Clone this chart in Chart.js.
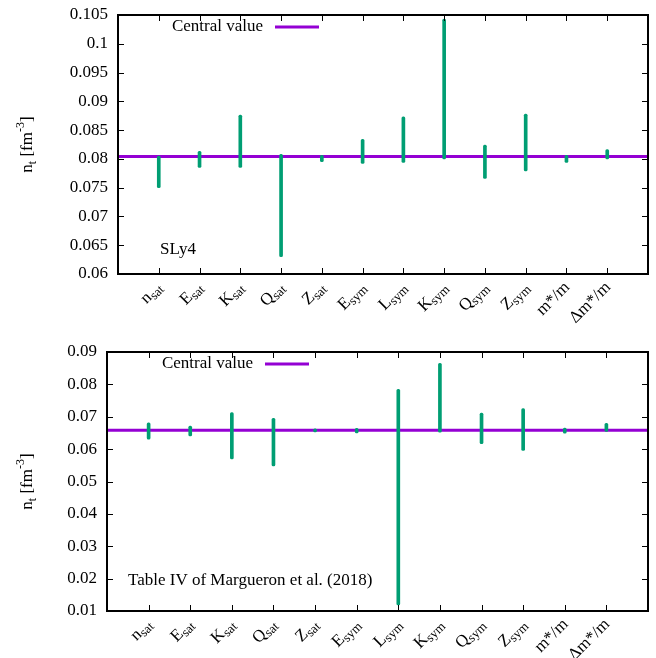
<!DOCTYPE html>
<html>
<head>
<meta charset="utf-8">
<script src="https://cdn.jsdelivr.net/npm/chart.js@4"></script>
<style>
  body { margin: 0; background: #fff; }
  .box { position: absolute; left: 0; width: 656px; }
</style>
</head>
<body>
<div class="box" style="top:0;height:330px"><canvas id="topChart"></canvas></div>
<div class="box" style="top:330px;height:328px"><canvas id="bottomChart"></canvas></div>
<script>
// parameter names: [main, subscript]
const params = [['n','sat'],['E','sat'],['K','sat'],['Q','sat'],['Z','sat'],
  ['E','sym'],['L','sym'],['K','sym'],['Q','sym'],['Z','sym'],['m*/m',''],['\u0394m*/m','']];

// SLy4: n_t range when each parameter is varied
const sly4Central = 0.0804;
const sly4Low  = [0.0750, 0.0785, 0.0785, 0.0630, 0.0795, 0.0792, 0.0794, 0.0800, 0.0766, 0.0779, 0.0794, 0.0800];
const sly4High = [0.0805, 0.0813, 0.0876, 0.0808, 0.0806, 0.0834, 0.0873, 0.1043, 0.0824, 0.0878, 0.0806, 0.0816];

// Table IV of Margueron et al. (2018)
const margCentral = 0.0658;
const margLow  = [0.0631, 0.0641, 0.0570, 0.0548, 0.0653, 0.0650, 0.0119, 0.0652, 0.0617, 0.0596, 0.0649, 0.0655];
const margHigh = [0.0681, 0.0671, 0.0713, 0.0695, 0.0663, 0.0664, 0.0785, 0.0865, 0.0711, 0.0725, 0.0665, 0.0680];

const FONT = '"Liberation Serif", "DejaVu Serif", serif';
const GREEN = '#009e73';
const PURPLE = '#9400d3';

// gnuplot-like frame, inner ticks, rotated labels with subscripts, legend and note
const decor = {
  id: 'decor',
  afterDraw(chart, args, o) {
    const ctx = chart.ctx, a = chart.chartArea;
    const xs = chart.scales.x, ys = chart.scales.y;
    ctx.save();
    ctx.strokeStyle = '#000';
    ctx.lineWidth = 1;
    ctx.beginPath();
    ys.ticks.forEach(t => {
      const y = Math.round(ys.getPixelForValue(t.value)) + 0.5;
      ctx.moveTo(a.left, y); ctx.lineTo(a.left + 6, y);
      ctx.moveTo(a.right, y); ctx.lineTo(a.right - 6, y);
    });
    params.forEach((p, i) => {
      const x = Math.round(xs.getPixelForValue(i + 1)) + 0.5;
      ctx.moveTo(x, a.bottom); ctx.lineTo(x, a.bottom - 6);
      ctx.moveTo(x, a.top); ctx.lineTo(x, a.top + 6);
    });
    ctx.stroke();
    ctx.lineWidth = 2;
    ctx.strokeRect(a.left, a.top, a.right - a.left, a.bottom - a.top);

    // x labels
    ctx.fillStyle = '#000';
    ctx.textBaseline = 'alphabetic';
    params.forEach((p, i) => {
      const x = xs.getPixelForValue(i + 1);
      ctx.save();
      ctx.translate(x + 4, a.bottom + 14);
      ctx.rotate(-Math.PI / 4);
      ctx.font = '17px ' + FONT;
      const w1 = ctx.measureText(p[0]).width;
      ctx.font = '13px ' + FONT;
      const w2 = p[1] ? ctx.measureText(p[1]).width : 0;
      ctx.textAlign = 'left';
      ctx.font = '17px ' + FONT;
      ctx.fillText(p[0], -w1 - w2, 0);
      if (p[1]) {
        ctx.font = '13px ' + FONT;
        ctx.fillText(p[1], -w2, 3);
      }
      ctx.restore();
    });

    // y title: n_t [fm^-3]
    ctx.save();
    ctx.translate(o.titleX, (a.top + a.bottom) / 2);
    ctx.rotate(-Math.PI / 2);
    const parts = [['n', 17, 0], ['t', 12, 4], [' [fm', 17, 0], ['-3', 12, -8], [']', 17, 0]];
    let total = 0;
    parts.forEach(q => { ctx.font = q[1] + 'px ' + FONT; total += ctx.measureText(q[0]).width; });
    let cx = -total / 2;
    ctx.textAlign = 'left';
    parts.forEach(q => {
      ctx.font = q[1] + 'px ' + FONT;
      ctx.fillText(q[0], cx, q[2]);
      cx += ctx.measureText(q[0]).width;
    });
    ctx.restore();

    // legend
    ctx.font = '17px ' + FONT;
    ctx.textAlign = 'right';
    ctx.textBaseline = 'middle';
    ctx.fillText('Central value', o.legendX, a.top + 12);
    ctx.strokeStyle = PURPLE;
    ctx.lineWidth = 3;
    ctx.beginPath();
    ctx.moveTo(o.legendX + 12, a.top + 12);
    ctx.lineTo(o.legendX + 56, a.top + 12);
    ctx.stroke();

    // note
    ctx.fillStyle = '#000';
    ctx.textAlign = 'left';
    ctx.textBaseline = 'alphabetic';
    ctx.fillText(o.note, o.noteX, o.noteY);
    ctx.restore();
  }
};

function makeChart(id, central, low, high, yMin, yMax, step, digits, axisWidth, padTop, padBottom, extra) {
  const bars = params.map((p, i) => ({ x: i + 1, y: [low[i], high[i]] }));
  return new Chart(document.getElementById(id), {
    type: 'bar',
    data: {
      datasets: [
        {
          type: 'line',
          label: 'Central value',
          data: [{ x: 0, y: central }, { x: 13, y: central }],
          borderColor: PURPLE,
          borderWidth: 3,
          pointRadius: 0,
          order: 2
        },
        {
          label: 'range',
          data: bars,
          backgroundColor: GREEN,
          barThickness: 3,
          borderRadius: 1.5,
          borderSkipped: false,
          order: 1
        }
      ]
    },
    options: {
      responsive: true,
      maintainAspectRatio: false,
      animation: false,
      layout: { padding: { top: padTop, bottom: padBottom, right: 8, left: 0 } },
      plugins: {
        legend: { display: false },
        tooltip: { enabled: false },
        decor: extra
      },
      scales: {
        x: { type: 'linear', min: 0, max: 13, offset: false, display: false },
        y: {
          min: yMin, max: yMax,
          grid: { display: false, drawTicks: false },
          border: { display: false },
          afterFit: s => { s.width = axisWidth; s.paddingTop = 0; s.paddingBottom = 0; },
          ticks: {
            stepSize: step,
            padding: 10,
            color: '#000',
            font: { family: FONT, size: 17 },
            callback: v => String(Number(v.toFixed(digits)))
          }
        }
      }
    },
    plugins: [decor]
  });
}

makeChart('topChart', sly4Central, sly4Low, sly4High, 0.06, 0.105, 0.005, 3, 118, 15, 56,
  { titleX: 32, legendX: 263, note: 'SLy4', noteX: 160, noteY: 254 });
makeChart('bottomChart', margCentral, margLow, margHigh, 0.01, 0.09, 0.01, 2, 107, 22, 47,
  { titleX: 32, legendX: 253, note: 'Table IV of Margueron et al. (2018)', noteX: 128, noteY: 255 });
</script>
</body>
</html>
